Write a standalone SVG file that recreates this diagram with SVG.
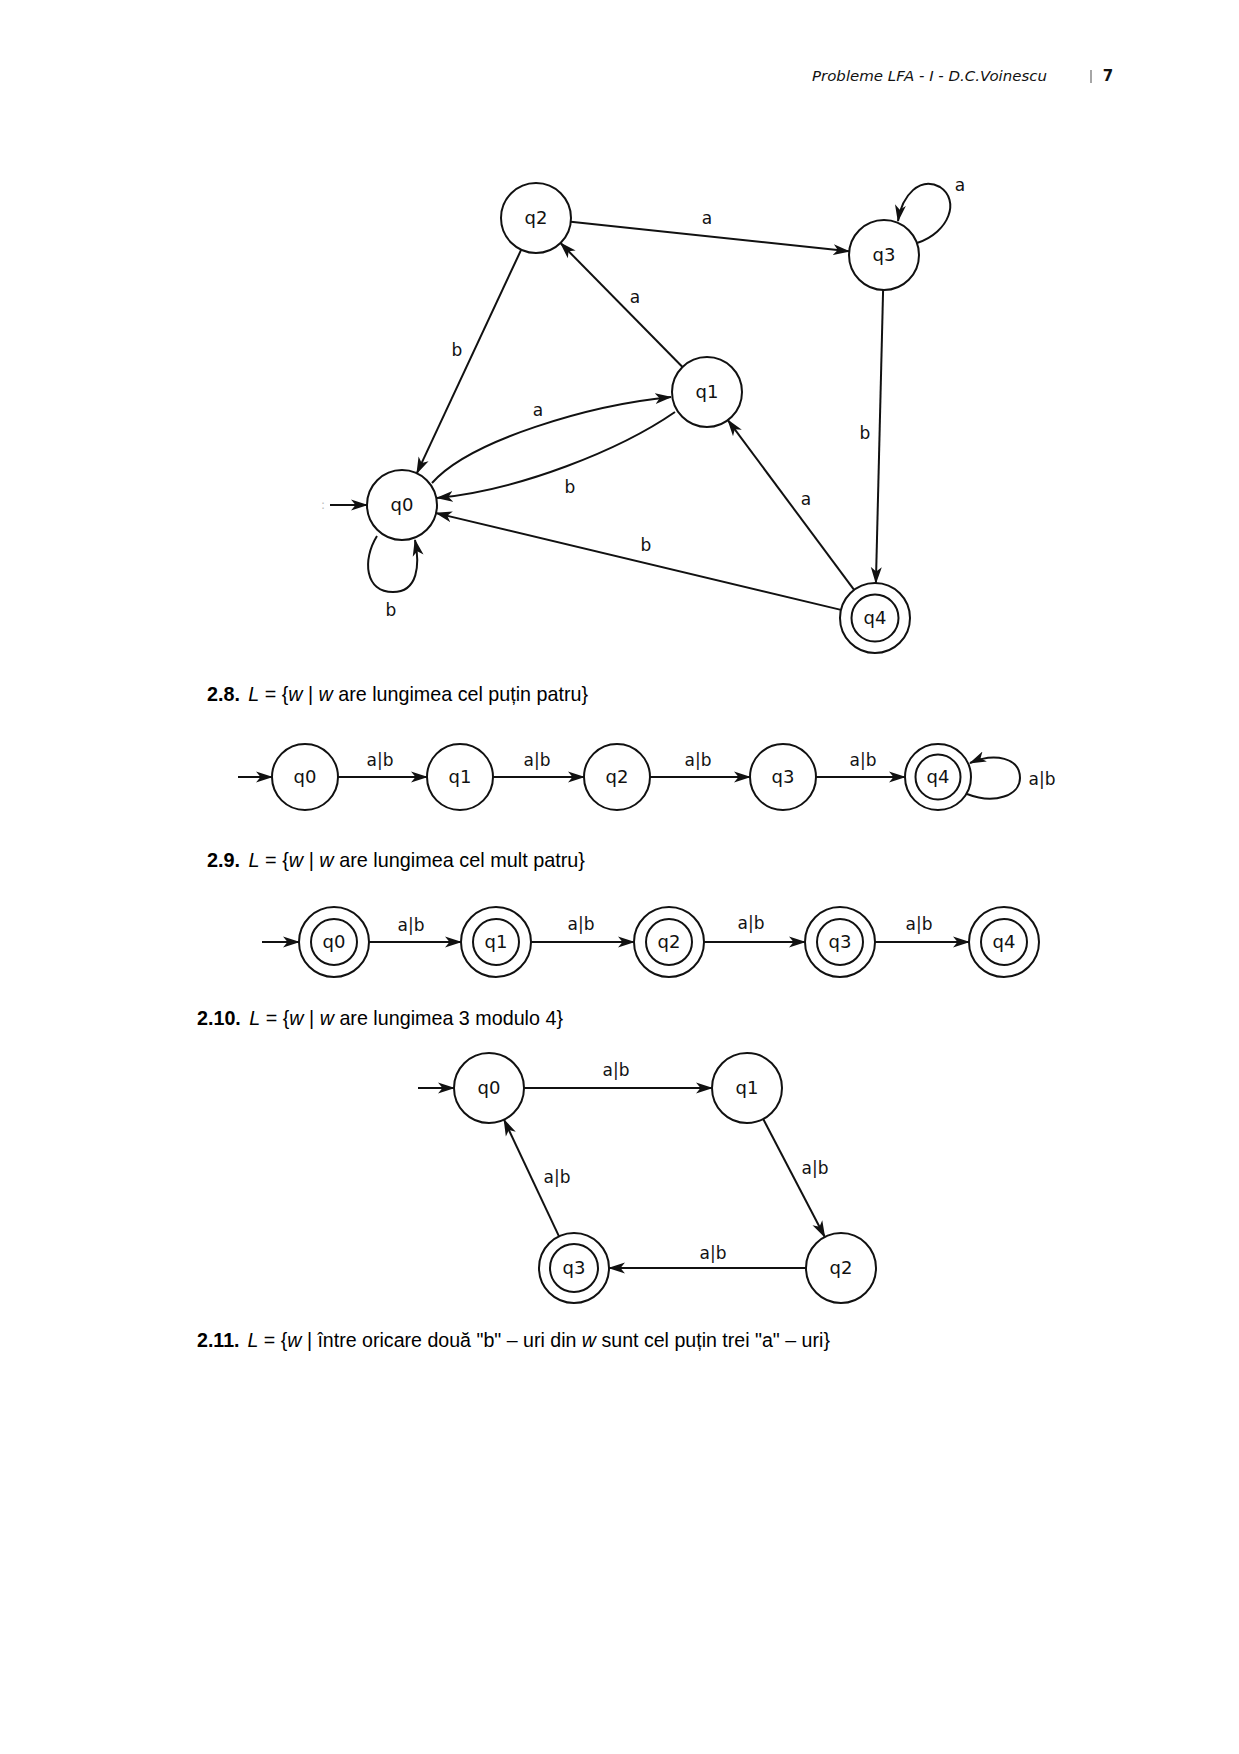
<svg xmlns="http://www.w3.org/2000/svg" width="1239" height="1754" viewBox="0 0 1239 1754">
<style>
.bg{fill:#fff}
.st{fill:none;stroke:#111;stroke-width:2}
.ed{fill:none;stroke:#111;stroke-width:2;marker-end:url(#ah)}
.nl{font-family:"DejaVu Sans","Liberation Sans",sans-serif;font-size:18px;fill:#111;text-anchor:middle}
.el{font-family:"DejaVu Sans","Liberation Sans",sans-serif;font-size:17px;fill:#111;text-anchor:middle}
.hd{font-family:"Liberation Sans","Arial",sans-serif;font-size:21px;fill:#000}
.b{font-weight:bold}
.i{font-style:italic}
</style>
<defs>
<marker id="ah" markerUnits="userSpaceOnUse" markerWidth="17" markerHeight="12" refX="16" refY="6" orient="auto">
<path d="M0,0.5 L17,6 L0,11.5 L4.5,6 z" fill="#111"/>
</marker>
</defs>
<rect class="bg" x="0" y="0" width="1239" height="1754"/>

<g id="header">
<text x="812" y="81" font-family="DejaVu Sans, sans-serif" font-style="italic" font-size="14.5" fill="#111" textLength="235" lengthAdjust="spacingAndGlyphs">Probleme LFA - I - D.C.Voinescu</text>
<line x1="1091" y1="70" x2="1091" y2="83" stroke="#888" stroke-width="1.5"/>
<text x="1108" y="81" font-family="DejaVu Sans, sans-serif" font-weight="bold" font-size="15" fill="#111" text-anchor="middle">7</text>
</g>

<!-- Top diagram -->
<g id="top-connectors">
<line class="ed" x1="330" y1="505" x2="367" y2="505"/>
<line class="ed" x1="521.2" y1="249.7" x2="416.8" y2="473.3"/>
<line class="ed" x1="570.8" y1="221.7" x2="849.2" y2="251.3"/>
<line class="ed" x1="682.5" y1="367" x2="560.5" y2="243"/>
<line class="ed" x1="883.1" y1="290" x2="875.9" y2="583"/>
<line class="ed" x1="854.1" y1="589.9" x2="727.9" y2="420.1"/>
<line class="ed" x1="841" y1="609.9" x2="436" y2="513.1"/>
<path class="ed" d="M432,483 C470,440 590,405 671,397"/>
<path class="ed" d="M675,412 C620,450 520,490 437,498"/>
<path class="ed" d="M377,536 C362,560 365,592 393,592 C418,592 420,565 415,540"/>
<path class="ed" d="M917,243 C950,232 960,200 940,187 C920,176 902,195 898,221"/>
<text class="el" x="707" y="224">a</text>
<text class="el" x="960" y="191">a</text>
<text class="el" x="635" y="303">a</text>
<text class="el" x="457" y="356">b</text>
<text class="el" x="538" y="416">a</text>
<text class="el" x="570" y="493">b</text>
<text class="el" x="865" y="439">b</text>
<text class="el" x="806" y="505">a</text>
<text class="el" x="646" y="551">b</text>
<text class="el" x="391" y="616">b</text>
<text x="323" y="509" font-family="DejaVu Sans, sans-serif" font-size="12" fill="#bbb" text-anchor="middle">:</text>
</g>
<g id="top-q0"><circle class="st" cx="402" cy="505" r="35"/><text class="nl" x="402" y="511">q0</text></g>
<g id="top-q1"><circle class="st" cx="707" cy="392" r="35"/><text class="nl" x="707" y="398">q1</text></g>
<g id="top-q2"><circle class="st" cx="536" cy="218" r="35"/><text class="nl" x="536" y="224">q2</text></g>
<g id="top-q3"><circle class="st" cx="884" cy="255" r="35"/><text class="nl" x="884" y="261">q3</text></g>
<g id="top-q4"><circle class="st" cx="875" cy="618" r="35"/><circle class="st" cx="875" cy="618" r="23.5"/><text class="nl" x="875" y="624">q4</text></g>

<!-- 2.8 -->
<text id="t28" class="hd" x="207" y="701" textLength="381" lengthAdjust="spacingAndGlyphs"><tspan class="b">2.8.</tspan><tspan class="i" dx="9">L</tspan> = {<tspan class="i">w</tspan> | <tspan class="i">w</tspan> are lungimea cel puțin patru}</text>
<g id="r28-connectors">
<line class="ed" x1="238" y1="777" x2="272" y2="777"/>
<line class="ed" x1="338" y1="777" x2="427" y2="777"/>
<line class="ed" x1="493" y1="777" x2="584" y2="777"/>
<line class="ed" x1="650" y1="777" x2="750" y2="777"/>
<line class="ed" x1="816" y1="777" x2="905" y2="777"/>
<path class="ed" d="M967,794 C995,805 1020,795 1020,778 C1020,758 995,752 970,763"/>
<text class="el" x="380" y="766">a|b</text>
<text class="el" x="537" y="766">a|b</text>
<text class="el" x="698" y="766">a|b</text>
<text class="el" x="863" y="766">a|b</text>
<text class="el" x="1042" y="785">a|b</text>
</g>
<g id="r28-q0"><circle class="st" cx="305" cy="777" r="33"/><text class="nl" x="305" y="783">q0</text></g>
<g id="r28-q1"><circle class="st" cx="460" cy="777" r="33"/><text class="nl" x="460" y="783">q1</text></g>
<g id="r28-q2"><circle class="st" cx="617" cy="777" r="33"/><text class="nl" x="617" y="783">q2</text></g>
<g id="r28-q3"><circle class="st" cx="783" cy="777" r="33"/><text class="nl" x="783" y="783">q3</text></g>
<g id="r28-q4"><circle class="st" cx="938" cy="777" r="33"/><circle class="st" cx="938" cy="777" r="22.5"/><text class="nl" x="938" y="783">q4</text></g>

<!-- 2.9 -->
<text id="t29" class="hd" x="207" y="867" textLength="378" lengthAdjust="spacingAndGlyphs"><tspan class="b">2.9.</tspan><tspan class="i" dx="9">L</tspan> = {<tspan class="i">w</tspan> | <tspan class="i">w</tspan> are lungimea cel mult patru}</text>
<g id="r29-connectors">
<line class="ed" x1="262" y1="942" x2="299" y2="942"/>
<line class="ed" x1="369" y1="942" x2="461" y2="942"/>
<line class="ed" x1="531" y1="942" x2="634" y2="942"/>
<line class="ed" x1="704" y1="942" x2="805" y2="942"/>
<line class="ed" x1="875" y1="942" x2="969" y2="942"/>
<text class="el" x="411" y="931">a|b</text>
<text class="el" x="581" y="930">a|b</text>
<text class="el" x="751" y="929">a|b</text>
<text class="el" x="919" y="930">a|b</text>
</g>
<g id="r29-q0"><circle class="st" cx="334" cy="942" r="35"/><circle class="st" cx="334" cy="942" r="23"/><text class="nl" x="334" y="948">q0</text></g>
<g id="r29-q1"><circle class="st" cx="496" cy="942" r="35"/><circle class="st" cx="496" cy="942" r="23"/><text class="nl" x="496" y="948">q1</text></g>
<g id="r29-q2"><circle class="st" cx="669" cy="942" r="35"/><circle class="st" cx="669" cy="942" r="23"/><text class="nl" x="669" y="948">q2</text></g>
<g id="r29-q3"><circle class="st" cx="840" cy="942" r="35"/><circle class="st" cx="840" cy="942" r="23"/><text class="nl" x="840" y="948">q3</text></g>
<g id="r29-q4"><circle class="st" cx="1004" cy="942" r="35"/><circle class="st" cx="1004" cy="942" r="23"/><text class="nl" x="1004" y="948">q4</text></g>

<!-- 2.10 -->
<text id="t210" class="hd" x="197" y="1025" textLength="366" lengthAdjust="spacingAndGlyphs"><tspan class="b">2.10.</tspan><tspan class="i" dx="9">L</tspan> = {<tspan class="i">w</tspan> | <tspan class="i">w</tspan> are lungimea 3 modulo 4}</text>
<g id="r210-connectors">
<line class="ed" x1="418" y1="1088" x2="454" y2="1088"/>
<line class="ed" x1="524" y1="1088" x2="712" y2="1088"/>
<line class="ed" x1="763.2" y1="1119" x2="824.8" y2="1237"/>
<line class="ed" x1="806" y1="1268" x2="609" y2="1268"/>
<line class="ed" x1="559" y1="1236.4" x2="504" y2="1119.6"/>
<text class="el" x="616" y="1076">a|b</text>
<text class="el" x="815" y="1174">a|b</text>
<text class="el" x="713" y="1259">a|b</text>
<text class="el" x="557" y="1183">a|b</text>
</g>
<g id="r210-q0"><circle class="st" cx="489" cy="1088" r="35"/><text class="nl" x="489" y="1094">q0</text></g>
<g id="r210-q1"><circle class="st" cx="747" cy="1088" r="35"/><text class="nl" x="747" y="1094">q1</text></g>
<g id="r210-q2"><circle class="st" cx="841" cy="1268" r="35"/><text class="nl" x="841" y="1274">q2</text></g>
<g id="r210-q3"><circle class="st" cx="574" cy="1268" r="35"/><circle class="st" cx="574" cy="1268" r="24"/><text class="nl" x="574" y="1274">q3</text></g>

<!-- 2.11 -->
<text id="t211" class="hd" x="197" y="1347" style="font-size:19.6px"><tspan class="b">2.11.</tspan><tspan class="i" dx="8">L</tspan> = {<tspan class="i">w</tspan> | între oricare două "b" – uri din <tspan class="i">w</tspan> sunt cel puțin trei "a" – uri}</text>
</svg>
